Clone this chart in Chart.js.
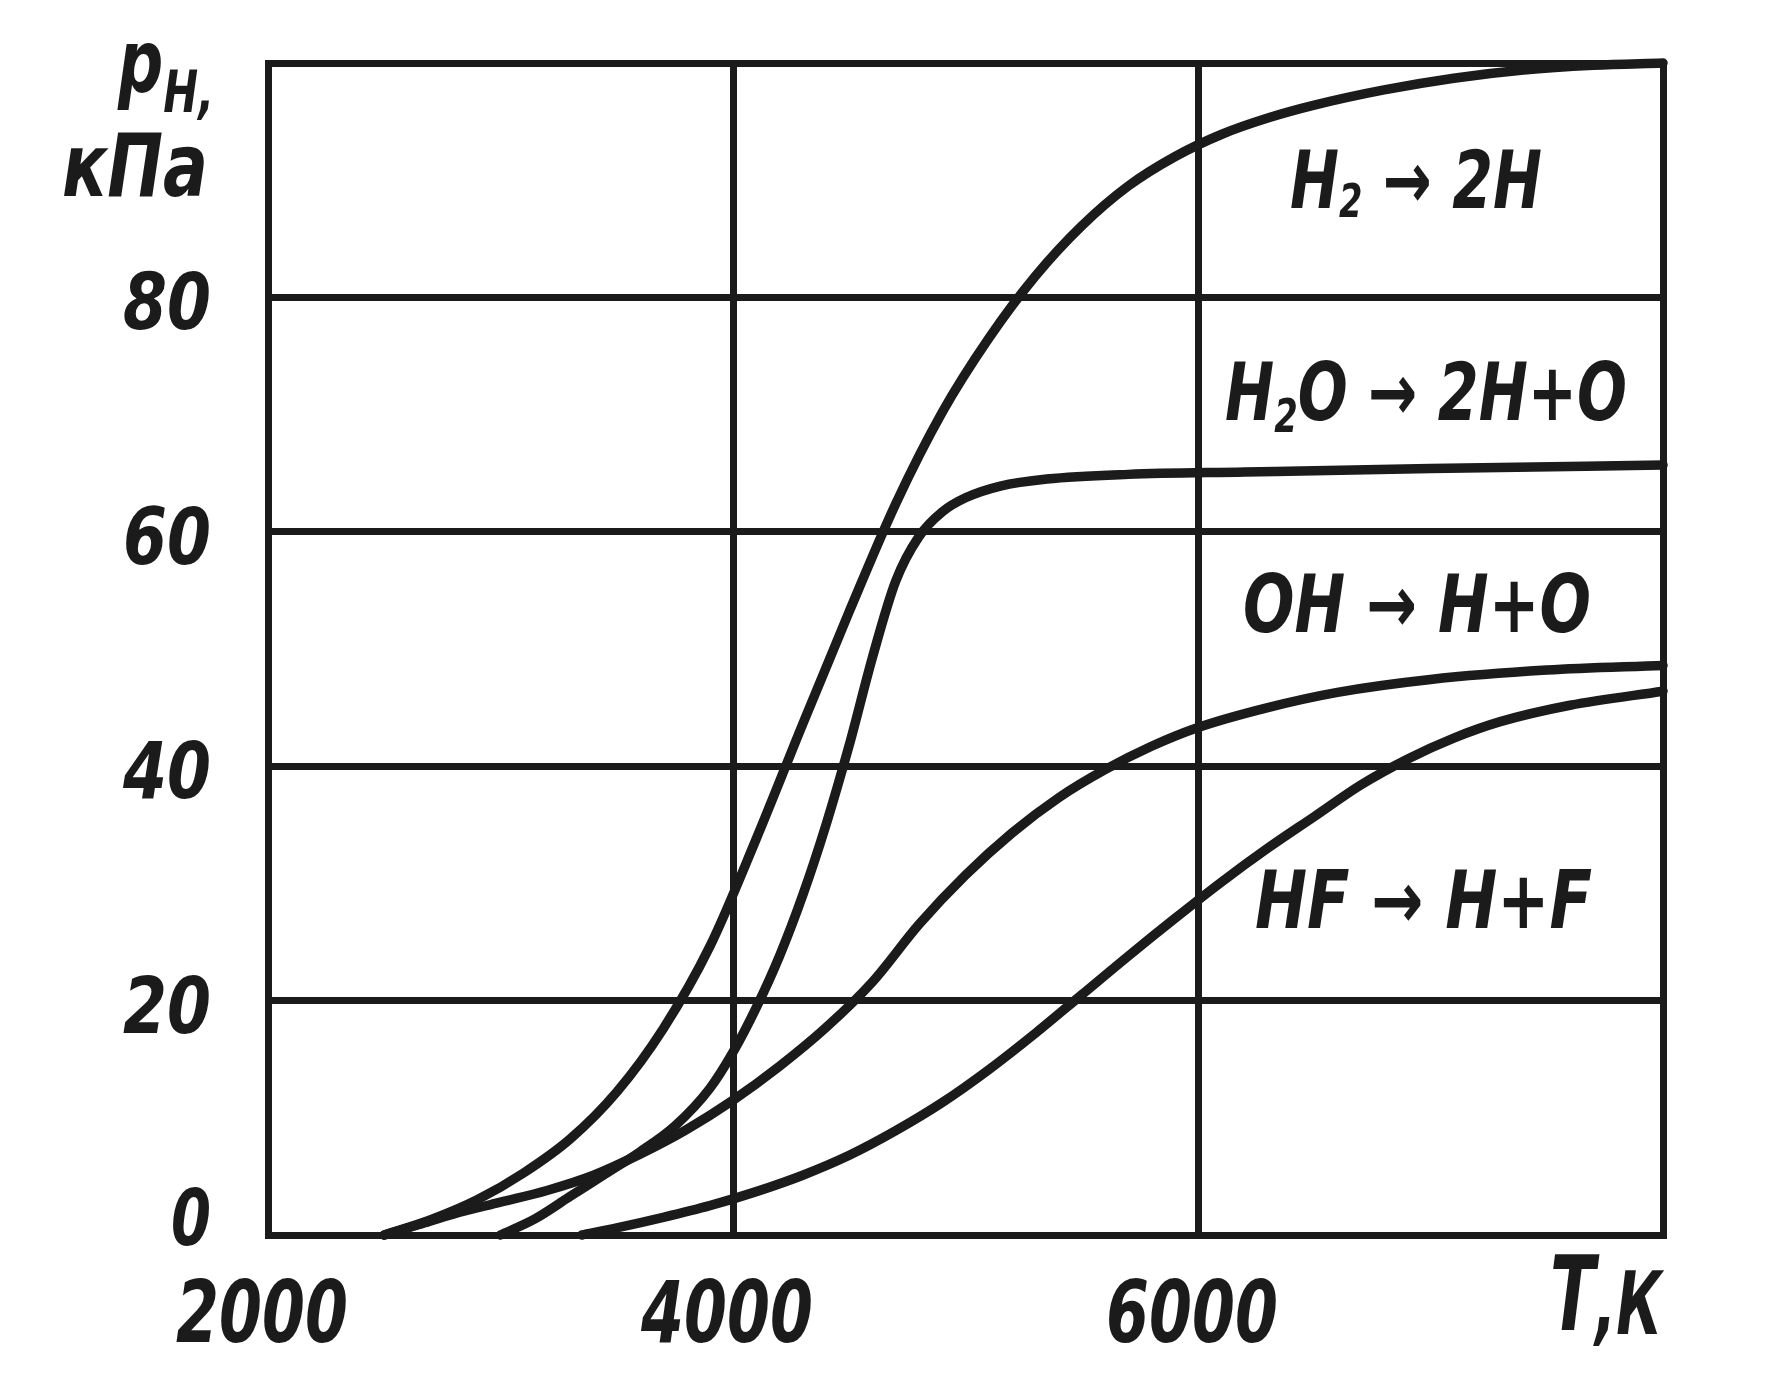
<!DOCTYPE html>
<html><head><meta charset="utf-8">
<script src="https://cdn.jsdelivr.net/npm/chart.js@4.4.1/dist/chart.umd.min.js"></script>
<style>html,body{margin:0;padding:0;background:#fff;}#wrap{width:1776px;height:1386px;}</style>
</head><body><div id="wrap"><canvas id="c" width="1776" height="1386"></canvas></div>
<script>
// ---- data (T in K, p_H in kPa) ----
const h2T  = [2500, 2700, 2900, 3100, 3300, 3500, 3700, 3900, 4100, 4300, 4500, 4700, 4900, 5100, 5300, 5500, 5700, 5900, 6100, 6300, 6500, 6800, 7100, 7400, 7700, 8000];
const h2P  = [0, 1.3, 3.0, 5.3, 8.2, 12.2, 17.6, 24.6, 33.8, 43.6, 53.2, 62.4, 70.2, 76.5, 81.8, 86.1, 89.5, 92.0, 93.9, 95.3, 96.4, 97.7, 98.7, 99.4, 99.8, 100];
const h2oT = [3000, 3150, 3300, 3450, 3600, 3750, 3900, 4000, 4100, 4200, 4300, 4400, 4500, 4600, 4700, 4800, 4900, 5000, 5150, 5350, 5700, 6200, 7000, 8000];
const h2oP = [0, 1.4, 3.3, 5.2, 7.1, 9.3, 12.5, 15.6, 19.4, 23.8, 29.0, 35.0, 41.8, 49.3, 55.8, 59.6, 61.7, 62.9, 63.9, 64.5, 64.9, 65.1, 65.4, 65.7];
const ohT  = [2500, 2650, 2800, 3000, 3200, 3400, 3600, 3800, 4000, 4200, 4400, 4600, 4800, 5000, 5200, 5400, 5600, 5800, 6000, 6300, 6600, 7000, 7500, 8000];
const ohP  = [0, 0.9, 1.8, 2.8, 3.8, 5.1, 6.9, 9.0, 11.5, 14.4, 17.7, 21.6, 26.5, 30.7, 34.3, 37.3, 39.7, 41.7, 43.3, 45.0, 46.3, 47.4, 48.2, 48.6];
const hfT  = [3350, 3500, 3700, 3900, 4100, 4300, 4500, 4700, 4900, 5100, 5300, 5500, 5700, 5900, 6100, 6300, 6500, 6700, 6900, 7100, 7300, 7600, 8000];
const hfP  = [0, 0.6, 1.5, 2.5, 3.7, 5.1, 6.8, 8.9, 11.3, 14.1, 17.2, 20.5, 23.8, 27.0, 30.1, 33.0, 35.7, 38.4, 40.6, 42.4, 43.8, 45.2, 46.4];

const xTicks = [2000, 4000, 6000, 8000];
const xTickLabels = ['2000', '4000', '6000', ''];
const yTicks = [0, 20, 40, 60, 80, 100];
const yTickLabels = ['0', '20', '40', '60', '80', ''];

const INK = '#1b1b1b';
const FAM = '"DejaVu Sans", "Liberation Sans", sans-serif';

function pts(t, p) { return t.map((v, i) => ({x: v, y: p[i]})); }
function ds(t, p) {
  return {data: pts(t, p), borderColor: INK, borderWidth: 9.5, pointRadius: 0,
          cubicInterpolationMode: 'monotone', fill: false, clip: false,
          borderCapStyle: 'round', borderJoinStyle: 'round'};
}

// draw text segments fitted to [left,right] at baseline
function drawSegs(ctx, segs, left, right, baseline) {
  let total = 0;
  segs.forEach(s => { ctx.font = 'italic bold ' + s.size + 'px ' + FAM; s.w = ctx.measureText(s.t).width; total += s.w; });
  const k = (right - left) / total;
  ctx.save();
  ctx.translate(left, baseline);
  ctx.scale(k, 1);
  ctx.fillStyle = INK;
  ctx.textAlign = 'left';
  ctx.textBaseline = 'alphabetic';
  let x = 0;
  segs.forEach(s => { ctx.font = 'italic bold ' + s.size + 'px ' + FAM; ctx.fillText(s.t, x, s.dy || 0); x += s.w; });
  ctx.restore();
}

const textPlugin = {
  id: 'texts',
  afterDraw(chart) {
    const ctx = chart.ctx;
    const xs = chart.scales.x, ys = chart.scales.y;
    // y tick labels
    yTicks.forEach((v, i) => {
      const lab = yTickLabels[i];
      if (!lab) return;
      let cy = ys.getPixelForValue(v) + 4;
      if (v === 0) cy -= 22;
      const w = lab.length === 1 ? 40 : 88;
      drawSegs(ctx, [{t: lab, size: 78}], 211 - w, 211, cy + 28);
    });
    // x tick labels
    xTicks.forEach((v, i) => {
      const lab = xTickLabels[i];
      if (!lab) return;
      const cx = xs.getPixelForValue(v) - 6;
      drawSegs(ctx, [{t: lab, size: 85}], cx - 86, cx + 86, 1342);
    });
    // axis titles
    drawSegs(ctx, [{t: 'p', size: 88}, {t: 'H,', size: 58, dy: 20}], 118, 214, 92);
    drawSegs(ctx, [{t: 'кПа', size: 88}], 62, 208, 196);
    drawSegs(ctx, [{t: 'T', size: 104}, {t: ',К', size: 88, dy: 4}], 1550, 1662, 1330);
    // curve labels
    drawSegs(ctx, [{t: 'H', size: 80}, {t: '2', size: 46, dy: 9}, {t: ' → 2H', size: 80}], 1290, 1542, 208);
    drawSegs(ctx, [{t: 'H', size: 80}, {t: '2', size: 46, dy: 12}, {t: 'O → 2H+O', size: 80}], 1225, 1627, 420);
    drawSegs(ctx, [{t: 'OH → H+O', size: 80}], 1243, 1591, 632);
    drawSegs(ctx, [{t: 'HF → H+F', size: 80}], 1255, 1592, 928);
  }
};

new Chart(document.getElementById('c'), {
  type: 'line',
  data: {datasets: [ds(h2T, h2P), ds(h2oT, h2oP), ds(ohT, ohP), ds(hfT, hfP)]},
  options: {
    responsive: false, animation: false, events: [],
    layout: {padding: {left: 268, top: 63, right: 113, bottom: 151}},
    plugins: {legend: {display: false}, tooltip: {enabled: false}},
    scales: {
      x: {type: 'linear', min: 2000, max: 8000,
          afterBuildTicks(s) { s.ticks = xTicks.map(v => ({value: v})); },
          grid: {color: INK, lineWidth: 7, drawTicks: false},
          border: {color: INK, width: 7},
          ticks: {display: false},
          afterFit(s) { s.height = 0; }},
      y: {type: 'linear', min: 0, max: 100,
          afterBuildTicks(s) { s.ticks = yTicks.map(v => ({value: v})); },
          grid: {color: INK, lineWidth: 7, drawTicks: false},
          border: {color: INK, width: 7},
          ticks: {display: false},
          afterFit(s) { s.width = 0; }}
    }
  },
  plugins: [textPlugin]
});
</script>
</body></html>
